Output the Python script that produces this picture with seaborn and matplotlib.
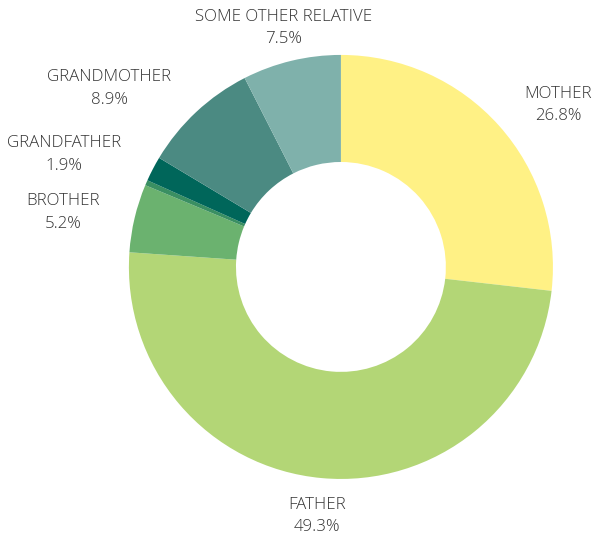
import seaborn as sns
import matplotlib
matplotlib.use('Agg')
import matplotlib.pyplot as plt
import numpy as np

sns.set_theme(style='white')
plt.rcParams['font.family'] = ['Open Sans', 'DejaVu Sans']

# data
relatives = ['MOTHER', 'FATHER', 'BROTHER', '', 'GRANDFATHER', 'GRANDMOTHER', 'SOME OTHER RELATIVE']
shares = [26.8, 49.3, 5.2, 0.4, 1.9, 8.9, 7.5]
colors = ['#fff185', '#b3d676', '#6bb26f', '#3a8f62', '#00665a', '#4b8a82', '#7fb1ab']

# label placement (angle in degrees, distance in radii) - tuned by eye
label_pos = {
    'MOTHER': (36.7, 1.277),
    'FATHER': (-95.4, 1.18),
    'BROTHER': (168.9, 1.336),
    'GRANDFATHER': (157.9, 1.41),
    'GRANDMOTHER': (142.4, 1.378),
    'SOME OTHER RELATIVE': (103.6, 1.16),
}

fig = plt.figure(figsize=(5.93, 5.36), dpi=100)
ax = fig.add_axes([0, 0, 1, 1])

ax.pie(shares, colors=colors, startangle=90, counterclock=False,
       wedgeprops=dict(width=0.505, edgecolor='none'))

for name, val in zip(relatives, shares):
    if not name:
        continue
    ang, dist = label_pos[name]
    x = dist * np.cos(np.radians(ang))
    y = dist * np.sin(np.radians(ang))
    ax.text(x, y, f'{name}\n{val}%', ha='center', va='center',
            fontsize=12.2, fontweight='light', color='#333333', linespacing=1.55)

ax.set_xlim(-1.608, 1.189)
ax.set_ylim(-1.269, 1.259)
ax.set_aspect('equal')
ax.axis('off')

fig.savefig('out.png', dpi=100)
